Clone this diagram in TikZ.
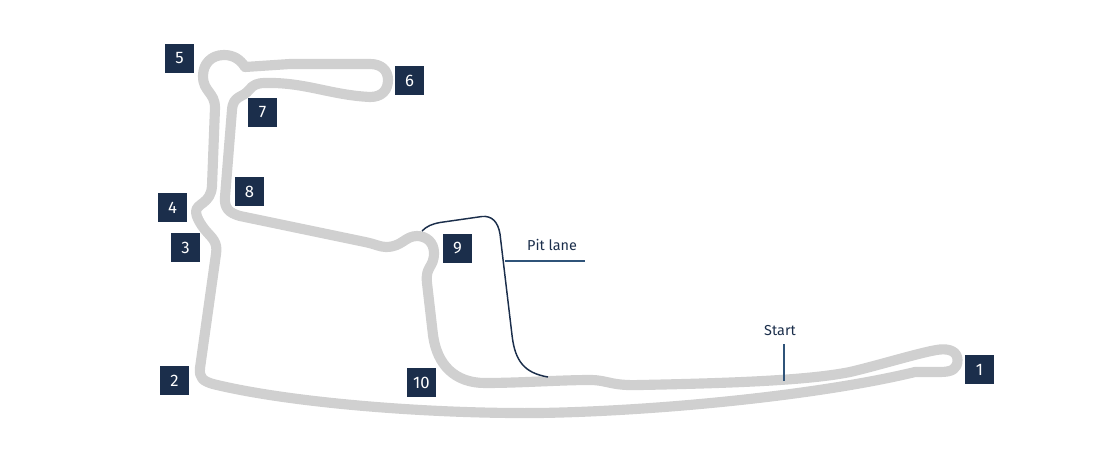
\documentclass[tikz,border=0pt]{standalone}
\usepackage{fontspec}
\setmainfont{Fira Sans}
\definecolor{navy}{HTML}{1B2E4B}
\definecolor{trackgrey}{HTML}{D0D0D0}
\definecolor{leader}{HTML}{2F5379}
\tikzset{
  turn/.style={fill=navy,text=white,minimum size=21.75pt,inner sep=0pt,font=\fontsize{12.5}{13}\selectfont},
  track/.style={draw=trackgrey,line width=7.6pt,line join=round},
  pit/.style={draw=navy,line width=1.1pt},
  leadline/.style={draw=leader,line width=1.2pt},
  caption text/.style={text=navy,font=\fontsize{10.8}{12}\selectfont,inner sep=0pt}
}
\begin{document}
\begin{tikzpicture}[x=0.75pt,y=-0.75pt]
\useasboundingbox (0,0) rectangle (1110,464);
\draw[track] (245,67) .. controls (240,59) and (233,55) .. (224,55)
 .. controls (211,55) and (203,64) .. (203,76)
 .. controls (203,92) and (215,92) .. (215,108)
 -- (212,186)
 .. controls (211,204) and (196,203) .. (196,212)
 .. controls (196,216) and (200,224) .. (206,231)
 .. controls (212,238) and (218,242) .. (216,254)
 -- (200,368)
 .. controls (199,378) and (203,381) .. (213,384)
 .. controls (290,403) and (430,414) .. (540,413)
 .. controls (660,411) and (820,395) .. (915,372)
 -- (940,372)
 .. controls (952,372) and (957.5,369) .. (957.5,360)
 .. controls (957.5,352) and (950,348.5) .. (940,349.5)
 .. controls (925,351) and (880,365) .. (850,372)
 .. controls (810,380) and (740,383) .. (640,385)
 .. controls (610,386) and (608,380) .. (590,380)
 .. controls (560,380) and (520,383) .. (485,383)
 .. controls (455,383) and (437,365) .. (433,335)
 -- (427,283)
 .. controls (425,266) and (434,268) .. (434,253)
 .. controls (434,242) and (426,236) .. (417,236)
 .. controls (405,236) and (402,247) .. (386,247)
 .. controls (380,247) and (375,244) .. (365,242)
 -- (240,216)
 .. controls (229,213) and (224,208) .. (225,197)
 -- (232,110)
 .. controls (233,95) and (243,98) .. (249,90)
 .. controls (253,85) and (257,83) .. (265,83)
 .. controls (305,82) and (330,95) .. (370,97)
 .. controls (382,97) and (388,90) .. (388,80)
 .. controls (388,70) and (381,64) .. (370,64)
 -- (290,64) -- cycle;
\coordinate (pita) at (422,231);
\coordinate (pitb) at (548,377);
\draw[pit] (pita) .. controls (427,226) and (432,224) .. (440,222.5)
  -- (482,216.5) .. controls (492,215.5) and (498,222) .. (500,234)
  -- (512,335) .. controls (515,362) and (525,373) .. (pitb);
\coordinate (pitl) at (505,261);
\coordinate (pitr) at (585,261);
\draw[leadline] (pitl) -- (pitr);
\coordinate (starttop) at (784,344);
\coordinate (startbot) at (784,381);
\draw[leadline] (starttop) -- (startbot);
\node[caption text] (pitlabel) at (552,245) {Pit lane};
\node[caption text] (startlabel) at (780,331) {Start};
\node[turn] (t1) at (979.5,369.5) {1};
\node[turn] (t2) at (174.5,380.5) {2};
\node[turn] (t3) at (185.5,247.5) {3};
\node[turn] (t4) at (172.5,207.5) {4};
\node[turn] (t5) at (179.5,58.5) {5};
\node[turn] (t6) at (409.5,80.5) {6};
\node[turn] (t7) at (262.5,112.5) {7};
\node[turn] (t8) at (249.5,191.5) {8};
\node[turn] (t9) at (457.5,248.5) {9};
\node[turn] (t10) at (421.5,382.5) {10};
\end{tikzpicture}
\end{document}
